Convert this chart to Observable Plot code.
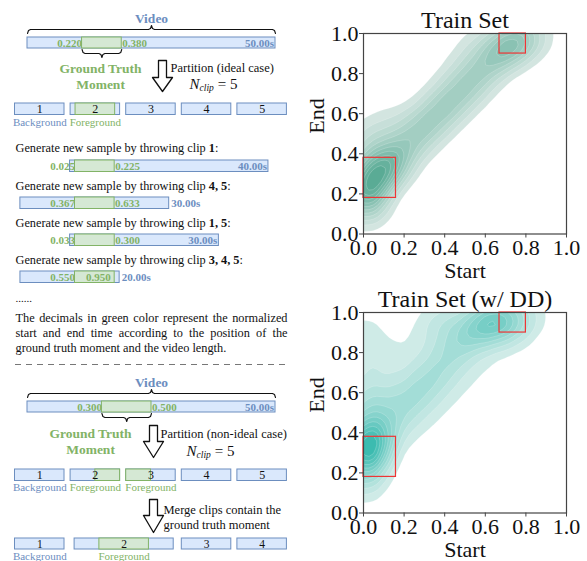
<!DOCTYPE html>
<html><head><meta charset="utf-8">
<script src="https://cdn.jsdelivr.net/npm/d3@7"></script>
<script src="https://cdn.jsdelivr.net/npm/@observablehq/plot@0.6"></script>
<style>
body{margin:0;background:#fff}
#wrap{position:relative;width:587px;height:561px;overflow:hidden;background:#fff}
#wrap > div{position:absolute}
</style></head><body><div id="wrap"></div>
<script>
// ---------------- DATA ----------------
const videoLength = 50;                    // seconds
const nClip = 5;
const gtIdeal = [0.220, 0.380];
const gtNonIdeal = [0.300, 0.500];
const thrownClips = ["1", "4, 5", "1, 5", "3, 4, 5"];
const sampleStart = [0.025, 0.367, 0.033, 0.550];
const sampleEnd = [0.225, 0.633, 0.300, 0.950];
const sampleLength = [40, 30, 30, 20];
const mergedClips = [[1], [2, 3], [4], [5]];
const noteLines = [
  "The decimals in green color represent the normalized",
  "start and end time according to the position of the",
  "ground truth moment and the video length."
];
const axisTicks = [0, 0.2, 0.4, 0.6, 0.8, 1.0];
const highlightBoxes = [[0, 0.16, 0.18, 0.38], [0.67, 0.80, 0.90, 1.00]]; // x1,x2,y1,y2
// [start, end, weight] estimates of the density shape
const trainPts = [
  [0.00,0.17,6],[0.01,0.21,4.5],[0.03,0.25,4.5],[0.05,0.28,4.5],[0.08,0.31,4.5],[0.11,0.33,4.5],[0.14,0.36,5.5],
  [0.00,0.34,2.5],
  [0.00,0.10,1.5],[0.04,0.14,1.8],
  [0.00,0.46,1.8],[0.05,0.48,1.8],[0.10,0.52,1.4],[0.15,0.56,1.2],
  [0.18,0.40,3.5],[0.23,0.45,3.5],[0.28,0.50,3.5],[0.33,0.55,3.5],[0.38,0.60,3.5],[0.43,0.65,3.5],
  [0.48,0.70,3.5],[0.53,0.75,3.5],[0.58,0.80,3.5],[0.63,0.86,4],[0.68,0.91,5],[0.73,0.95,6],
  [0.78,0.97,4],[0.83,0.99,2],[0.88,1.00,1],
  [0.25,0.56,1.5],[0.35,0.65,1.5],[0.42,0.74,1.3],[0.47,0.82,1.2],[0.52,0.89,1.2],[0.56,0.96,1.4]
];
const trainDDPts = [
  [0.00,0.25,8],[0.00,0.33,10],[0.02,0.40,8],[0.05,0.30,6],[0.08,0.35,4],[0.01,0.18,4],[0.00,0.12,2],
  [0.00,0.50,4],[0.04,0.55,3.5],[0.00,0.65,2.5],[0.00,0.78,2.2],[0.01,0.88,2.2],[0.00,0.97,1.1],
  [0.10,0.42,4],[0.15,0.48,3.5],[0.20,0.53,3.5],[0.25,0.58,3.5],[0.30,0.63,3.5],[0.35,0.68,3.5],
  [0.40,0.74,3.5],[0.45,0.80,3.5],[0.50,0.86,4],[0.55,0.91,5],[0.60,0.95,7],[0.66,0.96,8],
  [0.72,0.96,5],[0.78,0.98,3],[0.85,0.99,1.5],
  [0.25,0.40,1.5],[0.35,0.50,1.5],[0.45,0.60,1.5],[0.55,0.70,1.5],[0.65,0.80,1.5],[0.75,0.88,1.5],
  [0.10,0.62,2],[0.20,0.66,1.5],[0.10,0.76,0.9],[0.20,0.78,0.9],[0.14,0.84,0.8],[0.30,0.76,1.4],
  [0.28,0.90,1.3],[0.38,0.87,1.6],[0.35,0.98,1.8],[0.45,0.97,2.2],[0.40,0.93,1.5]
];

// ---------------- STYLE ----------------
const blue = "#6c8ebf", blueFill = "#dae8fc", green = "#82b366", greenFill = "#d5e8d4";
const serif = "'Liberation Serif', 'Times New Roman', serif";
const ctx = document.createElement("canvas").getContext("2d");
function tw(s, size, weight = "normal", style = "normal") {
  ctx.font = `${style} ${weight} ${size}px ${serif}`;
  return ctx.measureText(s).width;
}
const f3 = d3.format(".3f"), f2 = d3.format(".2f");

// ---------------- LEFT DIAGRAM ----------------
const rects = [], texts = [], strokes = [], arrows = [];
let pid = 0;
function rect(x1, x2, y1, y2, fill, stroke) { rects.push({x1, x2, y1, y2, fill, stroke}); }
function text(s, x, y, o = {}) {
  texts.push({s, x, y, size: o.size || 12, weight: o.weight || "normal", style: o.style || "normal",
    fill: o.fill || "#111", anchor: o.anchor || "start"});
}
function brace(xa, xb, yEnd, yMid, yTip) {
  const c = (xa + xb) / 2, id = pid++;
  const s = Math.sign(yMid - yEnd);
  [[xa, yEnd], [xa + 1, yMid - s * 1], [xa + 3, yMid], [c - 3, yMid], [c - 1, yMid + s * 1], [c, yTip],
   [c + 1, yMid + s * 1], [c + 3, yMid], [xb - 3, yMid], [xb - 1, yMid - s * 1], [xb, yEnd]]
    .forEach(([x, y]) => strokes.push({x, y, id}));
}
function arrow(cx, top, headY, tip) {
  const id = pid++;
  [[cx - 4, top], [cx + 4, top], [cx + 4, headY], [cx + 10, headY], [cx, tip], [cx - 10, headY],
   [cx - 4, headY], [cx - 4, top]].forEach(([x, y]) => arrows.push({x, y, id}));
}
const pps = 248 / videoLength, vx0 = 27;

function videoBlock(yBar, gt) {
  const x1 = vx0, x2 = vx0 + videoLength * pps;
  const g1 = x1 + gt[0] * videoLength * pps, g2 = x1 + gt[1] * videoLength * pps;
  text("Video", (x1 + x2) / 2, yBar - 19, {size: 13.5, weight: "bold", fill: blue, anchor: "middle"});
  brace(x1, x2, yBar - 4, yBar - 8, yBar - 12);
  rect(x1, x2, yBar, yBar + 11, blueFill, blue);
  rect(g1, g2, yBar, yBar + 11, greenFill, green);
  text(f3(gt[0]), g1, yBar + 5.5, {size: 11, weight: "bold", fill: green, anchor: "end"});
  text(f3(gt[1]), g2 + 0.5, yBar + 5.5, {size: 11, weight: "bold", fill: green});
  text(f2(videoLength) + "s", x2 - 1.5, yBar + 5.5, {size: 11, weight: "bold", fill: blue, anchor: "end"});
  brace(g1, g2, yBar + 12, yBar + 16, yBar + 20);
}
function gtText(cx, y) {
  text("Ground Truth", cx, y, {size: 13.5, weight: "bold", fill: green, anchor: "middle"});
  text("Moment", cx, y + 16, {size: 13.5, weight: "bold", fill: green, anchor: "middle"});
}
function nclip(cx, y) {
  const wN = tw("N", 15, "normal", "italic"), wc = tw("clip", 9.5, "normal", "italic"), we = tw("= 5", 15);
  const x0 = cx - (wN + wc + 4 + we) / 2;
  text("N", x0, y, {size: 15, style: "italic"});
  text("clip", x0 + wN, y + 3.5, {size: 9.5, style: "italic"});
  text("= 5", x0 + wN + wc + 4, y, {size: 15});
}
function slot(i) { const a = 14.5 + i * 55.6; return [a, a + 49.5]; }
function clipRow(yTop, groups, gt, labelDy, bh, numSize) {
  const g0 = gt[0] * videoLength, g1 = gt[1] * videoLength, clipLen = videoLength / nClip;
  const info = groups.map((g, k) => {
    const a = (g[0] - 1) * clipLen, b = g[g.length - 1] * clipLen;
    const x1 = g.length > 1 ? slot(g[0] - 1)[0] + 4 : slot(g[0] - 1)[0];
    const x2 = g.length > 1 ? slot(g[g.length - 1] - 1)[1] - 2 : slot(g[0] - 1)[1];
    const lo = Math.max(a, g0), hi = Math.min(b, g1);
    return {k, x1, x2, a, b, fg: hi > lo, lo, hi};
  });
  const lastFg = d3.max(info.filter(d => d.fg), d => d.k);
  info.forEach(d => {
    rect(d.x1, d.x2, yTop, yTop + bh, blueFill, blue);
    if (d.fg) {
      const w = d.x2 - d.x1;
      rect(d.x1 + (d.lo - d.a) / (d.b - d.a) * w, d.x1 + (d.hi - d.a) / (d.b - d.a) * w, yTop, yTop + bh, greenFill, green);
    }
    text(String(d.k + 1), (d.x1 + d.x2) / 2, yTop + bh / 2 + 0.3, {size: numSize, anchor: "middle"});
    if (d.k <= lastFg)
      text(d.fg ? "Foreground" : "Background", (d.x1 + d.x2) / 2, yTop + labelDy, {size: 11, fill: d.fg ? green : blue, anchor: "middle"});
  });
}

// top part (ideal case)
videoBlock(37, gtIdeal);
gtText(100, 68);
arrow(162, 60, 77, 91);
text("Partition (ideal case)", 170, 67, {size: 12.5});
nclip(213, 84);
clipRow(103, d3.range(1, nClip + 1).map(i => [i]), gtIdeal, 18.5, 11.5, 12);

// generated samples
const anchorX = 74.5;
thrownClips.forEach((c, i) => {
  const ty = 148 + i * 37.3, by = 160 + i * 37;
  const pre = "Generate new sample by throwing clip ";
  const wPre = tw(pre, 12.3), wC = tw(c, 12.3, "bold");
  text(pre, 15, ty, {size: 12.3});
  text(c, 15 + wPre, ty, {size: 12.3, weight: "bold"});
  text(":", 15 + wPre + wC, ty, {size: 12.3});
  const L = sampleLength[i] * pps;
  const x1 = anchorX - sampleStart[i] * L, x2 = x1 + L, g2 = x1 + sampleEnd[i] * L;
  rect(x1, x2, by, by + 11.5, blueFill, blue);
  rect(anchorX, g2, by, by + 11.5, greenFill, green);
  const yl = by + 6;
  text(f3(sampleStart[i]), anchorX, yl, {size: 11, weight: "bold", fill: green, anchor: "end"});
  const endLbl = f3(sampleEnd[i]), wEnd = tw(endLbl, 11, "bold");
  const endInside = x2 - g2 < wEnd + 2;
  if (endInside) text(endLbl, g2 - 4, yl, {size: 11, weight: "bold", fill: green, anchor: "end"});
  else text(endLbl, g2 + 0.5, yl, {size: 11, weight: "bold", fill: green});
  const lenLbl = f2(sampleLength[i]) + "s", wLen = tw(lenLbl, 11, "bold");
  const endRight = endInside ? g2 : g2 + 0.5 + wEnd;
  if (x2 - endRight > wLen + 6) text(lenLbl, x2 - 1.5, yl, {size: 11, weight: "bold", fill: blue, anchor: "end"});
  else text(lenLbl, x2 + 2, yl, {size: 11, weight: "bold", fill: blue});
});

text("......", 15, 298, {size: 11});
// justified note
noteLines.forEach((line, i) => {
  const y = 318 + i * 15, size = 12.3;
  if (i === noteLines.length - 1) { text(line, 15, y, {size}); return; }
  const words = line.split(" ");
  const ws = words.map(w => tw(w, size));
  const gap = (272 - d3.sum(ws)) / (words.length - 1);
  let x = 15;
  words.forEach((w, j) => { text(w, x, y, {size}); x += ws[j] + gap; });
});

// bottom part (non-ideal case)
videoBlock(401, gtNonIdeal);
gtText(90, 433);
arrow(153, 425, 441, 457);
text("Partition (non-ideal case)", 160, 433, {size: 12.5});
nclip(210, 451);
clipRow(469, d3.range(1, nClip + 1).map(i => [i]), gtNonIdeal, 18, 11.5, 12);
arrow(153, 499, 515, 532);
text("Merge clips contain the", 163, 509, {size: 12.5});
text("ground truth moment", 163, 524, {size: 12.5});
clipRow(538, mergedClips, gtNonIdeal, 17.5, 11, 11.5);

const leftMarks = [
  Plot.rect(rects, {x1: "x1", x2: "x2", y1: "y1", y2: "y2", fill: "fill", stroke: "stroke", strokeWidth: 1}),
  Plot.line(strokes, {x: "x", y: "y", z: "id", stroke: "#111", strokeWidth: 1.1}),
  Plot.line(arrows, {x: "x", y: "y", z: "id", stroke: "#111", fill: "white", strokeWidth: 1.3}),
  Plot.ruleY([364], {x1: 15, x2: 287, stroke: "#777", strokeWidth: 1, strokeDasharray: "6,5"}),
  ...texts.map(t => Plot.text([t], {x: "x", y: "y", text: "s", fontSize: t.size, fontWeight: t.weight,
    fontStyle: t.style, fill: t.fill, textAnchor: t.anchor, lineAnchor: "middle", fontFamily: serif}))
];
const left = Plot.plot({
  width: 300, height: 561, margin: 0,
  x: {domain: [0, 300], range: [0, 300], axis: null},
  y: {domain: [0, 561], range: [0, 561], axis: null},
  color: {type: "identity"},
  style: {background: "transparent", fontFamily: serif},
  marks: leftMarks
});

// ---------------- DENSITY CHARTS ----------------
function densityChart(pts, title, colors, h, mt) {
  const data = pts.map(([s, e, w]) => ({s, e, w}));
  const boxes = highlightBoxes.map(([x1, x2, y1, y2]) => ({x1, x2, y1, y2}));
  return Plot.plot({
    width: 287, height: h,
    marginLeft: 63, marginRight: 21, marginTop: mt, marginBottom: h - mt - 200.5,
    x: {domain: [0, 1]}, y: {domain: [0, 1]},
    color: {type: "linear", range: colors},
    style: {background: "transparent", fontFamily: serif, fontSize: "22px", color: "#111", overflow: "visible"},
    marks: [
      Plot.density(data, {x: "s", y: "e", weight: "w", bandwidth: 13, thresholds: 12, fill: "density",
        stroke: "white", strokeWidth: 0.4, strokeOpacity: 0.5, clip: true}),
      Plot.rect(boxes, {x1: "x1", x2: "x2", y1: "y1", y2: "y2", fill: "none", stroke: "#ee3535", strokeWidth: 1.2}),
      Plot.frame({stroke: "#444", strokeWidth: 1.2}),
      Plot.axisX({ticks: axisTicks, tickFormat: d3.format(".1f"), tickSize: 4, tickPadding: 1, label: null,
        stroke: "#444", fontSize: 22, fill: "#111"}),
      Plot.axisY({ticks: axisTicks, tickFormat: d3.format(".1f"), tickSize: 4, tickPadding: 1, label: null,
        stroke: "#444", fontSize: 22, fill: "#111"}),
      Plot.text([title], {frameAnchor: "top", dy: -13, lineAnchor: "middle", fontSize: 24, fill: "#111"}),
      Plot.text(["Start"], {frameAnchor: "bottom", dy: 37, lineAnchor: "middle", fontSize: 22, fill: "#111"}),
      Plot.text(["End"], {frameAnchor: "left", dx: -47, rotate: -90, lineAnchor: "middle", fontSize: 22, fill: "#111"})
    ]
  });
}
const top1 = densityChart(trainPts, "Train Set", ["#dfebe8", "#5aab95"], 280, 33);
const top2 = densityChart(trainDDPts, "Train Set (w/ DD)", ["#def0ed", "#3cbbb0"], 281, 32);

const wrap = document.getElementById("wrap");
[[left, 0, 0], [top1, 300, 0], [top2, 300, 280]].forEach(([el, x, y]) => {
  const d = document.createElement("div");
  d.style.left = x + "px"; d.style.top = y + "px";
  d.appendChild(el); wrap.appendChild(d);
});
</script></body></html>
